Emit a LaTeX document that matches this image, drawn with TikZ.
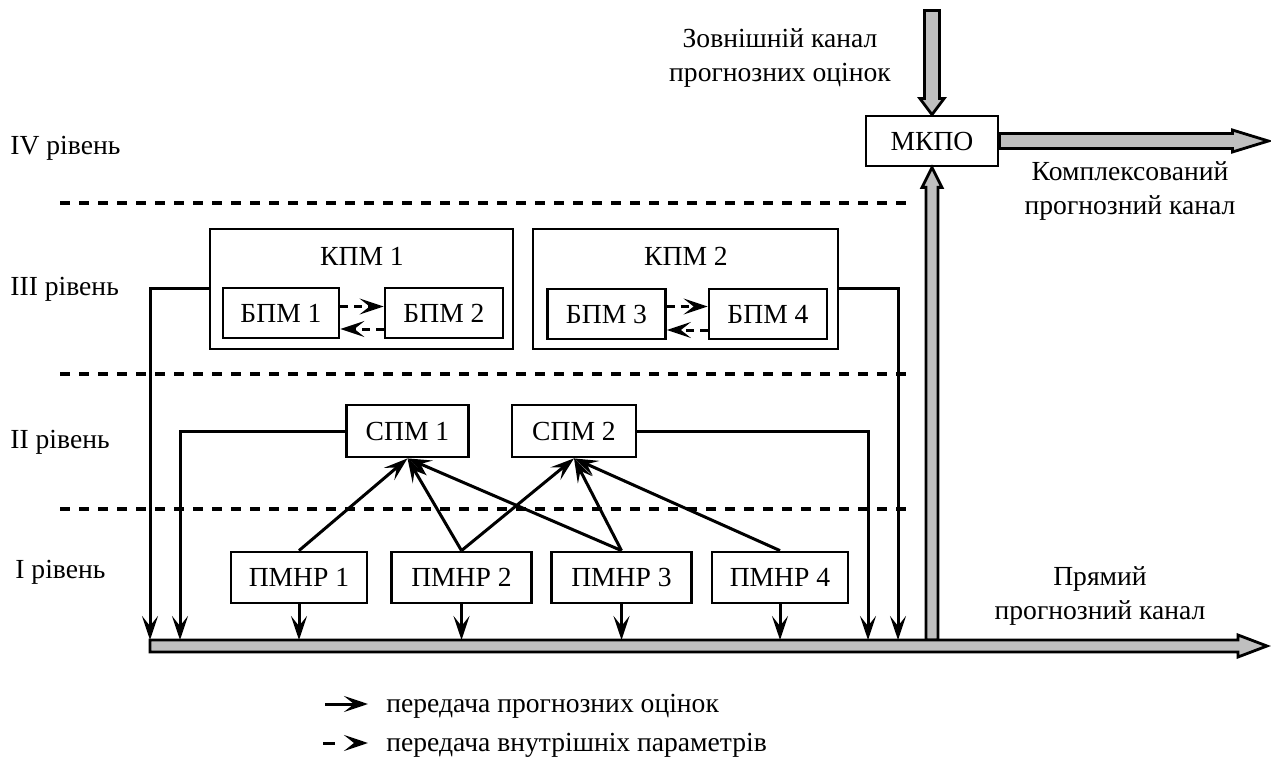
\documentclass[tikz,border=0pt]{standalone}
\usepackage{fontspec}
\setmainfont{Liberation Serif}
\usetikzlibrary{arrows.meta,calc}
\begin{document}
\begin{tikzpicture}[x=0.5pt,y=-0.5pt,
  font=\fontsize{13.8}{17}\selectfont,
  >={Stealth[length=12pt,width=8pt,inset=5pt]},
  box/.style={draw,line width=1.4pt,inner sep=0pt,minimum height=25pt},
  conn/.style={line width=1.5pt,->},
  dconn/.style={line width=1.5pt,->,dash pattern=on 4pt off 3pt},
  levelline/.style={line width=2pt,dash pattern=on 5pt off 4.5pt},
  fat/.style={draw,line width=1.4pt,fill=black!25,line join=miter},
  lbl/.style={anchor=base west,inner sep=0pt},
  txt/.style={align=center,inner sep=0pt}]
\useasboundingbox (0,0) rectangle (1271,765);

% level separators
\draw[levelline] (60,203) -- (910,203);
\draw[levelline] (60,374) -- (910,374);
\draw[levelline] (60,509) -- (910,509);

% level labels
\node[lbl] (l4) at (10,155) {IV рівень};
\node[lbl] (l3) at (10,295) {III рівень};
\node[lbl] (l2) at (10,448) {II рівень};
\node[lbl] (l1) at (15,578) {I рівень};

% level IV
\node[box,minimum width=66pt] (mkpo) at (932,141) {МКПО};
\node[txt] (ext) at (780,58) {Зовнішній канал\\прогнозних оцінок};
\node[txt] (compl) at (1130,191) {Комплексований\\прогнозний канал};
\node[txt] (direct) at (1100,596) {Прямий\\прогнозний канал};

% level III
\node[box,minimum width=151.5pt,minimum height=60pt] (kpm1) at (361.5,289) {};
\node[anchor=base,inner sep=0pt] (kpm1l) at (362,265) {КПМ 1};
\node[box,minimum width=58pt] (bpm1) at (281,313) {БПМ 1};
\node[box,minimum width=59pt] (bpm2) at (444,313) {БПМ 2};
\node[box,minimum width=152.5pt,minimum height=60pt] (kpm2) at (685.5,289) {};
\node[anchor=base,inner sep=0pt] (kpm2l) at (686,265) {КПМ 2};
\node[box,minimum width=59pt] (bpm3) at (606.5,314) {БПМ 3};
\node[box,minimum width=59pt] (bpm4) at (768,314) {БПМ 4};

% level II
\node[box,minimum width=61pt,minimum height=26pt] (spm1) at (407.5,431) {СПМ 1};
\node[box,minimum width=62pt,minimum height=26pt] (spm2) at (574,431) {СПМ 2};

% level I
\node[box,minimum width=68pt,minimum height=25.5pt] (p1) at (299,577.5) {ПМНР 1};
\node[box,minimum width=70pt,minimum height=25.5pt] (p2) at (461.5,577.5) {ПМНР 2};
\node[box,minimum width=70pt,minimum height=25.5pt] (p3) at (621.5,577.5) {ПМНР 3};
\node[box,minimum width=68pt,minimum height=25.5pt] (p4) at (780,577.5) {ПМНР 4};

% bus coordinates
\coordinate (bt) at (0,640);
\coordinate (in1) at (150,640);
\coordinate (in2) at (180,640);
\coordinate (in7) at (868,640);
\coordinate (in8) at (898,640);
\coordinate (upb) at (932,640);
\coordinate (bus0) at (150,646);
\coordinate (bus1) at (1267,646);

% fat channels
\draw[fat] ($(upb)+(-6,0)$) -- ($(mkpo.south)+(-6,20)$) -- ($(mkpo.south)+(-10,20)$)
  -- (mkpo.south) -- ($(mkpo.south)+(10,20)$) -- ($(mkpo.south)+(6,20)$) -- ($(upb)+(6,0)$) -- cycle;
\draw[fat] (bus0) ++(0,-6) -- ($(bus1)+(-29,-6)$) -- ($(bus1)+(-29,-11)$) -- (bus1)
  -- ($(bus1)+(-29,11)$) -- ($(bus1)+(-29,6)$) -- ($(bus0)+(0,6)$) -- cycle;
\draw[fat] ($(mkpo.north)+(-7.5,-104)$) -- ($(mkpo.north)+(7.5,-104)$) -- ($(mkpo.north)+(7.5,-16)$)
  -- ($(mkpo.north)+(12,-16)$) -- (mkpo.north) -- ($(mkpo.north)+(-12,-16)$) -- ($(mkpo.north)+(-7.5,-16)$) -- cycle;
\draw[fat] ($(mkpo.east)+(0,-7.5)$) -- ($(mkpo.east)+(233,-7.5)$) -- ($(mkpo.east)+(233,-11)$)
  -- ($(mkpo.east)+(269,0)$) -- ($(mkpo.east)+(233,11)$) -- ($(mkpo.east)+(233,7.5)$) -- ($(mkpo.east)+(0,7.5)$) -- cycle;

% connectors to the bus
\draw[conn] (kpm1.west) -| (in1);
\draw[conn] (spm1.west) -| (in2);
\draw[conn] (spm2.east) -| (in7);
\draw[conn] (kpm2.east) -| (in8);
\foreach \p in {p1,p2,p3,p4} \draw[conn] (\p.south) -- (\p.south |- bt);

% level I -> level II
\draw[conn] (p1.north) -- (spm1.south);
\draw[conn] (p2.north) -- (spm1.south);
\draw[conn] (p2.north) -- (spm2.south);
\draw[conn] (p3.north) -- (spm1.south);
\draw[conn] (p3.north) -- (spm2.south);
\draw[conn] (p4.north) -- (spm2.south);

% internal parameters
\draw[dconn] ([yshift=3.25pt]bpm1.east) -- ([yshift=3.25pt]bpm2.west);
\draw[dconn] ([yshift=-8pt]bpm2.west) -- ([yshift=-8pt]bpm1.east);
\draw[dconn] ([yshift=3.75pt]bpm3.east) -- ([yshift=3.75pt]bpm4.west);
\draw[dconn] ([yshift=-8pt]bpm4.west) -- ([yshift=-8pt]bpm3.east);

% legend
\coordinate (lg1a) at (325,704);
\coordinate (lg1b) at (368,704);
\coordinate (lg2a) at (323,743);
\coordinate (lg2b) at (368,743);
\draw[conn] (lg1a) -- (lg1b);
\draw[line width=1.5pt,->,dash pattern=on 6pt off 10pt] (lg2a) -- (lg2b);
\node[lbl] (lt1) at (386,712) {передача прогнозних оцінок};
\node[lbl] (lt2) at (386,751) {передача внутрішніх параметрів};
\end{tikzpicture}
\end{document}
